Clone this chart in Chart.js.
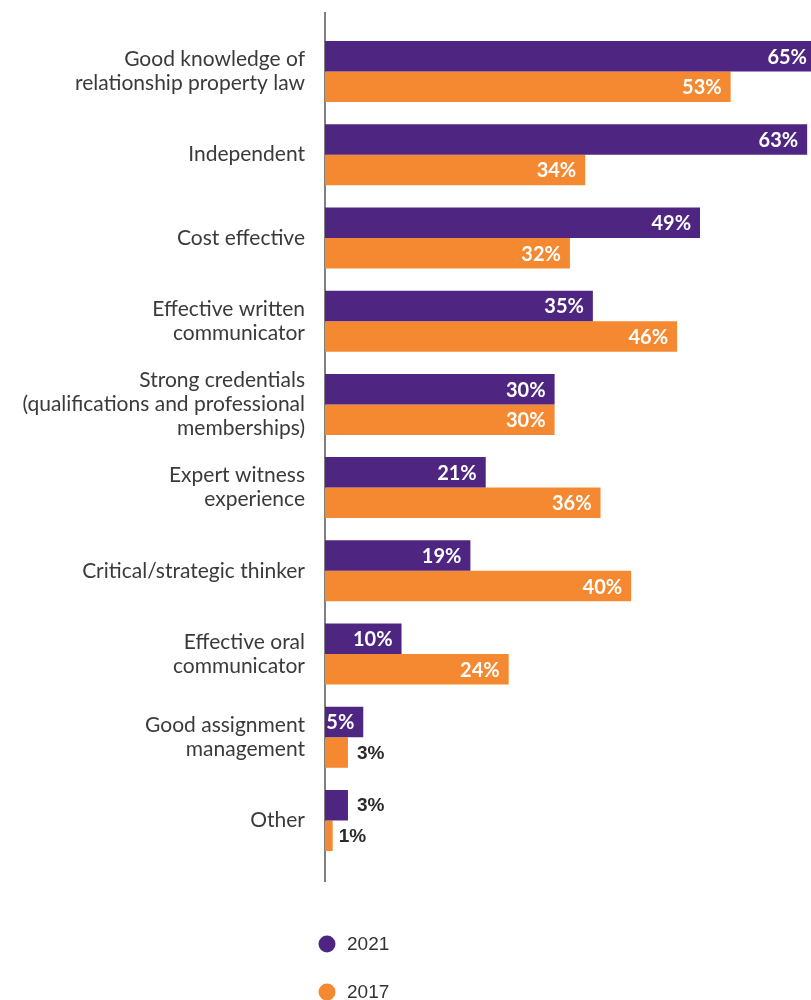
<!DOCTYPE html>
<html>
<head>
<meta charset="utf-8">
<script src="https://cdn.jsdelivr.net/npm/chart.js@4.4.1/dist/chart.umd.min.js"></script>
<style>
  html, body { margin: 0; padding: 0; background: #ffffff; }
  #wrap { width: 811px; height: 1000px; position: relative; }
</style>
</head>
<body>
<div id="wrap"><canvas id="chart" width="811" height="1000"></canvas></div>
<script>
// Attributes rated, with the share of respondents choosing each
const categories = [
  ['Good knowledge of', 'relationship property law'],
  'Independent',
  'Cost effective',
  ['Effective written', 'communicator'],
  ['Strong credentials', '(qualifications and professional', 'memberships)'],
  ['Expert witness', 'experience'],
  'Critical/strategic thinker',
  ['Effective oral', 'communicator'],
  ['Good assignment', 'management'],
  'Other'
];
const values2021 = [65, 63, 49, 35, 30, 21, 19, 10, 5, 3];
const values2017 = [53, 34, 32, 46, 30, 36, 40, 24, 3, 1];
const seriesNames = ['2021', '2017'];

const PURPLE = '#4f2582';
const ORANGE = '#f48932';

// Vertical axis line that runs a little past the plotted categories
const axisLine = {
  id: 'axisLine',
  beforeDatasetsDraw(chart) {
    const { ctx, chartArea } = chart;
    ctx.save();
    ctx.strokeStyle = '#555555';
    ctx.lineWidth = 1.5;
    ctx.beginPath();
    ctx.moveTo(chartArea.left, 12);
    ctx.lineTo(chartArea.left, 882);
    ctx.stroke();
    ctx.restore();
  }
};

// Percent labels: inside the bar end when it fits, beside it otherwise
const valueLabels = {
  id: 'valueLabels',
  afterDatasetsDraw(chart) {
    const { ctx, chartArea } = chart;
    chart.data.datasets.forEach((ds, di) => {
      const meta = chart.getDatasetMeta(di);
      meta.data.forEach((bar, i) => {
        const v = ds.data[i];
        const txt = v + '%';
        ctx.save();
        ctx.textBaseline = 'middle';
        if (v >= 5) {
          const clipped = bar.x > chartArea.right;
          const end = Math.min(bar.x, chartArea.right);
          ctx.font = '700 20px Lato';
          ctx.fillStyle = '#ffffff';
          ctx.textAlign = 'right';
          ctx.fillText(txt, end - (clipped ? 4 : 9), bar.y + 1);
        } else {
          ctx.font = 'bold 19px "Liberation Sans"';
          ctx.fillStyle = '#2b2b2b';
          ctx.textAlign = 'left';
          ctx.fillText(txt, bar.x + (v < 2 ? 6 : 9), bar.y + 1);
        }
        ctx.restore();
      });
    });
  }
};

// Stacked legend below the plot
const stackedLegend = {
  id: 'stackedLegend',
  afterDraw(chart) {
    const { ctx } = chart;
    const items = Chart.defaults.plugins.legend.labels.generateLabels(chart);
    items.forEach((item, i) => {
      const cy = 944 + i * 48;
      ctx.save();
      ctx.fillStyle = item.fillStyle;
      ctx.beginPath();
      ctx.arc(327, cy, 8.5, 0, Math.PI * 2);
      ctx.fill();
      ctx.fillStyle = '#333333';
      ctx.font = '19px "Liberation Sans"';
      ctx.textAlign = 'left';
      ctx.textBaseline = 'middle';
      ctx.fillText(item.text, 347, cy + 1);
      ctx.restore();
    });
  }
};

new Chart(document.getElementById('chart'), {
  type: 'bar',
  data: {
    labels: categories,
    datasets: [
      { label: seriesNames[0], data: values2021, backgroundColor: PURPLE },
      { label: seriesNames[1], data: values2017, backgroundColor: ORANGE }
    ]
  },
  options: {
    indexAxis: 'y',
    responsive: false,
    animation: false,
    devicePixelRatio: 1,
    layout: { padding: { top: 29.9, bottom: 137.9, left: 0, right: 0 } },
    datasets: {
      bar: { barPercentage: 1.0, categoryPercentage: 0.733, borderWidth: 0 }
    },
    scales: {
      x: {
        display: false,
        min: 0,
        max: 63.5
      },
      y: {
        grid: { display: false, drawTicks: false },
        border: { display: false },
        afterFit(scale) {
          scale.width = 325;
          scale.paddingTop = 0;
          scale.paddingBottom = 0;
        },
        ticks: {
          padding: 20,
          color: '#3a3a3a',
          font: { family: 'Lato', size: 21, lineHeight: 1.143 }
        }
      }
    },
    plugins: {
      legend: { display: false },
      tooltip: { enabled: false }
    }
  },
  plugins: [axisLine, valueLabels, stackedLegend]
});
</script>
</body>
</html>
